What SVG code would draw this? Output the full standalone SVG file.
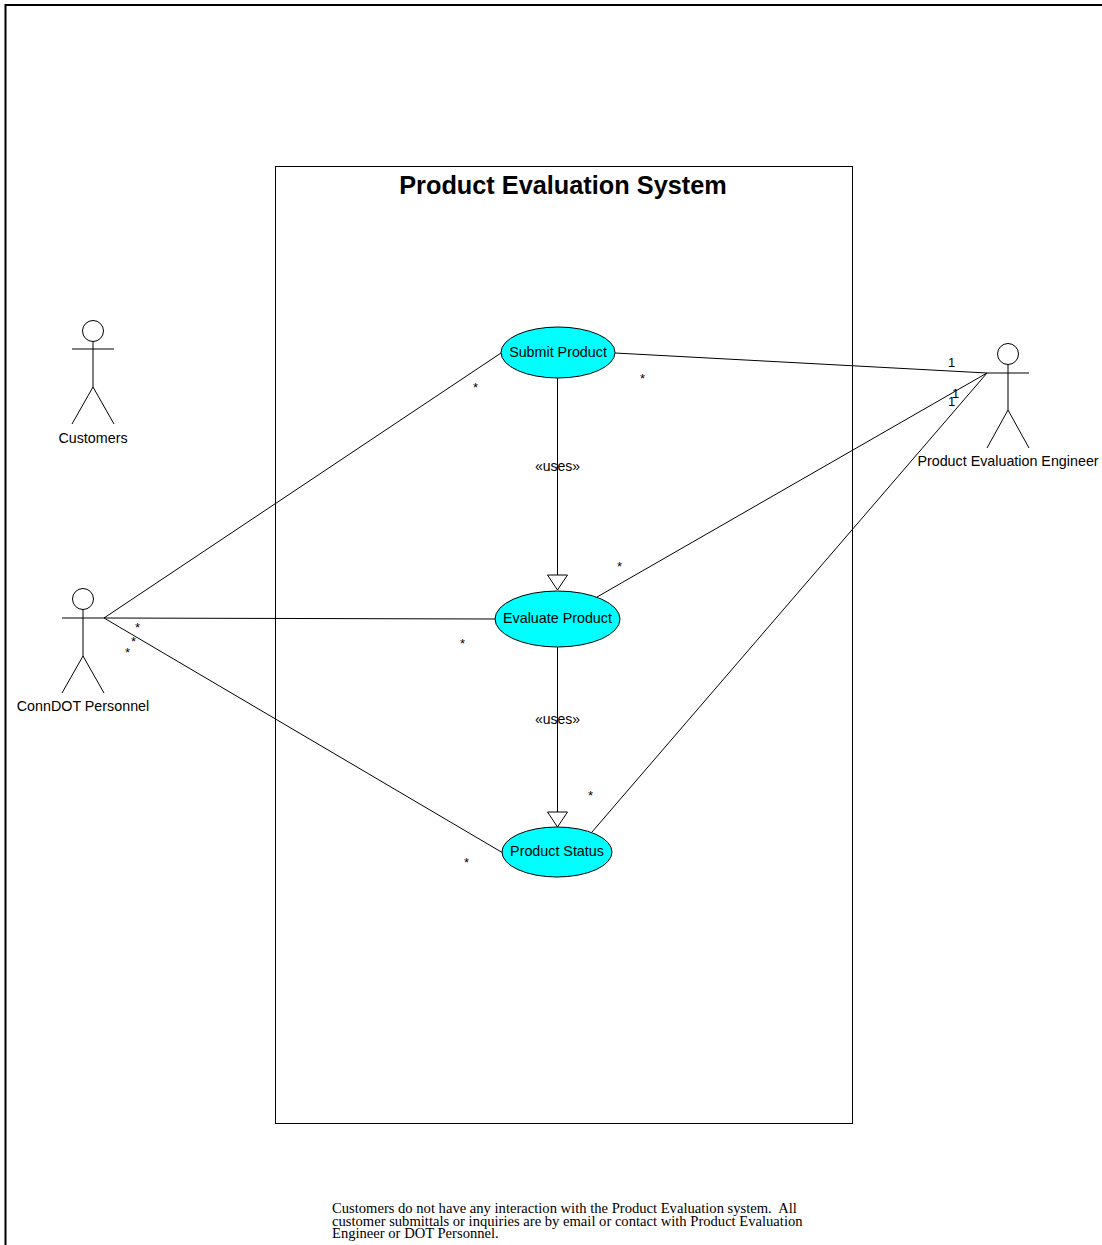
<svg xmlns="http://www.w3.org/2000/svg" width="1102" height="1245" viewBox="0 0 1102 1245">
<style>
.ln{stroke:#000;stroke-width:1;fill:none}
.uc{fill:#00FFFF;stroke:#000;stroke-width:1}
.lbl{font-family:"Liberation Sans",Arial,sans-serif;font-size:14.3px;fill:#000}
.ctr{text-anchor:middle}
.m{font-family:"Liberation Sans",Arial,sans-serif;font-size:13px;fill:#000}
.note{font-family:"Liberation Serif","Times New Roman",serif;font-size:14.6px;fill:#000;white-space:pre}
.gen{fill:#fff;stroke:#000;stroke-width:1}
</style>
<rect width="1102" height="1245" fill="#fff"/>
<g id="frame">
<line x1="5.5" y1="5" x2="1102" y2="5" stroke="#000" stroke-width="2"/>
<line x1="5.5" y1="4" x2="5.5" y2="1245" stroke="#000" stroke-width="2"/>
</g>
<g id="system">
<rect x="275.5" y="166.5" width="577" height="957" class="ln"/>
<text x="563" y="194" class="ctr" style="font-family:'Liberation Sans',Arial,sans-serif;font-size:25.3px;font-weight:bold">Product Evaluation System</text>
</g>
<g id="connectors">
<line class="ln" x1="557.5" y1="378" x2="557.5" y2="575"/>
<polygon class="gen" points="547.5,575 567.5,575 557.5,590"/>
<line class="ln" x1="557.5" y1="647" x2="557.5" y2="812"/>
<polygon class="gen" points="547.5,812 567.5,812 557.5,827"/>
<line class="ln" x1="615" y1="353" x2="987" y2="373"/>
<line class="ln" x1="597" y1="597" x2="987" y2="373"/>
<line class="ln" x1="592" y1="832" x2="987" y2="373"/>
<line class="ln" x1="104" y1="618" x2="501" y2="353"/>
<line class="ln" x1="104" y1="618" x2="495" y2="619"/>
<line class="ln" x1="104" y1="618" x2="503" y2="853"/>
<text x="557.5" y="470.5" class="lbl ctr" style="font-size:14px">«uses»</text>
<text x="557.5" y="723.5" class="lbl ctr" style="font-size:14px">«uses»</text>
<text x="948" y="367" class="m">1</text>
<text x="952" y="398" class="m">1</text>
<text x="948" y="406" class="m">1</text>
<text x="473" y="392" class="m">*</text>
<text x="640" y="383" class="m">*</text>
<text x="617" y="571" class="m">*</text>
<text x="460" y="648" class="m">*</text>
<text x="588" y="800" class="m">*</text>
<text x="464" y="867" class="m">*</text>
<text x="135" y="632" class="m">*</text>
<text x="131" y="646" class="m">*</text>
<text x="125" y="657" class="m">*</text>
</g>
<g id="uc-submit">
<ellipse class="uc" cx="558" cy="352.5" rx="57" ry="25.5"/>
<text x="558" y="357" class="lbl ctr">Submit Product</text>
</g>
<g id="uc-evaluate">
<ellipse class="uc" cx="557.5" cy="619" rx="62.5" ry="28"/>
<text x="557.5" y="623" class="lbl ctr">Evaluate Product</text>
</g>
<g id="uc-status">
<ellipse class="uc" cx="557" cy="852" rx="55" ry="25"/>
<text x="557" y="856" class="lbl ctr">Product Status</text>
</g>
<g id="actor-customers">
<circle class="ln" cx="93" cy="331" r="10.5"/>
<line class="ln" x1="93" y1="341.5" x2="93" y2="387"/>
<line class="ln" x1="72" y1="349" x2="114" y2="349"/>
<line class="ln" x1="93" y1="387" x2="72" y2="424"/>
<line class="ln" x1="93" y1="387" x2="114" y2="424"/>
<text x="93" y="442.5" class="lbl ctr">Customers</text>
</g>
<g id="actor-conndot">
<circle class="ln" cx="83" cy="599" r="10.5"/>
<line class="ln" x1="83" y1="609.5" x2="83" y2="656"/>
<line class="ln" x1="62" y1="618" x2="104" y2="618"/>
<line class="ln" x1="83" y1="656" x2="62" y2="693"/>
<line class="ln" x1="83" y1="656" x2="104" y2="693"/>
<text x="83" y="711" class="lbl ctr">ConnDOT Personnel</text>
</g>
<g id="actor-engineer">
<circle class="ln" cx="1008" cy="354" r="10.5"/>
<line class="ln" x1="1008" y1="364.5" x2="1008" y2="410"/>
<line class="ln" x1="987" y1="373" x2="1029" y2="373"/>
<line class="ln" x1="1008" y1="410" x2="987" y2="448"/>
<line class="ln" x1="1008" y1="410" x2="1029" y2="448"/>
<text x="1008" y="466" class="lbl ctr">Product Evaluation Engineer</text>
</g>
<g id="note">
<text x="332" y="1213" class="note" xml:space="preserve">Customers do not have any interaction with the Product Evaluation system.  All</text>
<text x="332" y="1226" class="note">customer submittals or inquiries are by email or contact with Product Evaluation</text>
<text x="332" y="1238" class="note">Engineer or DOT Personnel.</text>
</g>
</svg>
